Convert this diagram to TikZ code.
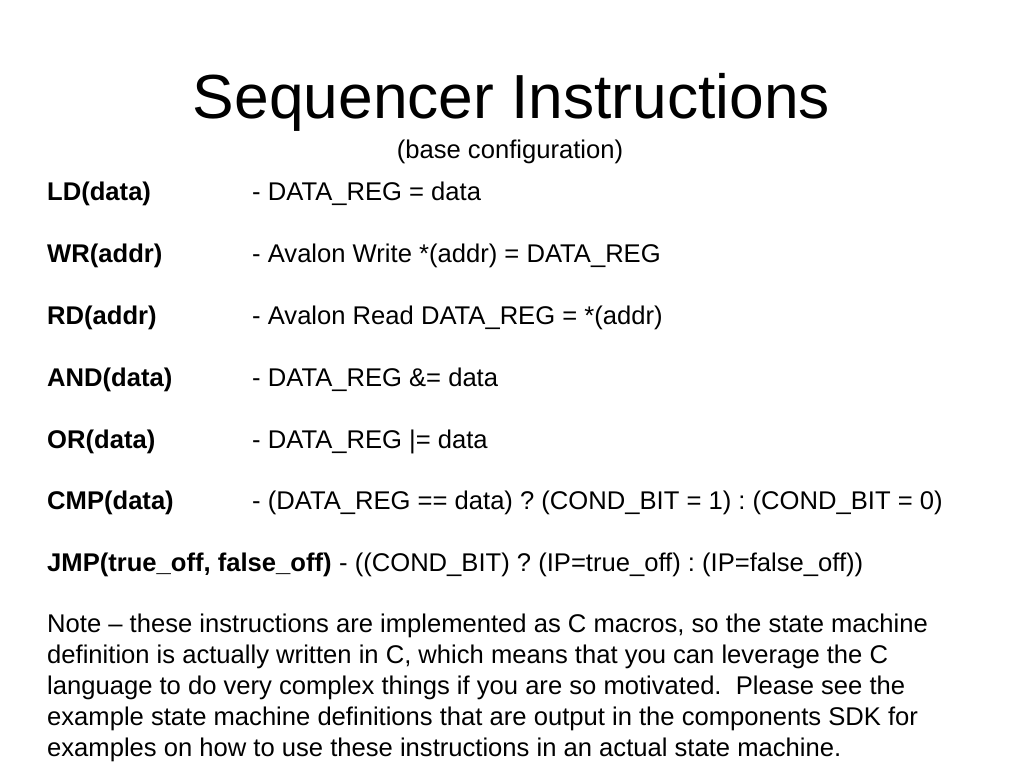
\documentclass[tikz,border=0pt]{standalone}
\usepackage{fontspec}
\setmainfont{Liberation Sans}
\frenchspacing
\begin{document}
\begin{tikzpicture}[x=1pt, y=-1pt,
    every node/.style={inner sep=0pt, anchor=base west},
    instr/.style={font=\fontsize{25.6}{31}\selectfont\bfseries},
    effect/.style={font=\fontsize{25.6}{31}\selectfont}]
    \useasboundingbox[fill=white] (0, 0) rectangle (1024, 768);
    \node[anchor=base, font=\fontsize{62.3}{70}\selectfont] (title) at (511.5, 118) {Sequencer Instructions};
    \node[anchor=base, effect] (subtitle) at (510, 158) {(base configuration)};
    \node[instr] (ld) at (47, 200) {LD(data)};
    \node[effect] (ldfx) at (252, 200) {- DATA\_REG = data};
    \node[instr] (wr) at (47, 262) {WR(addr)};
    \node[effect] (wrfx) at (252, 262) {- Avalon Write *(addr) = DATA\_REG};
    \node[instr] (rd) at (47, 324) {RD(addr)};
    \node[effect] (rdfx) at (252, 324) {- Avalon Read DATA\_REG = *(addr)};
    \node[instr] (and) at (47, 386) {AND(data)};
    \node[effect] (andfx) at (252, 386) {- DATA\_REG \&= data};
    \node[instr] (or) at (47, 448) {OR(data)};
    \node[effect] (orfx) at (252, 448) {- DATA\_REG |= data};
    \node[instr] (cmp) at (47, 509) {CMP(data)};
    \node[effect] (cmpfx) at (252, 509) {- (DATA\_REG == data) ? (COND\_BIT = 1) : (COND\_BIT = 0)};
    \node[instr] (jmp) at (47, 571) {JMP(true\_off, false\_off)};
    \node[effect] (jmpfx) at (jmp.base east) {\ - ((COND\_BIT) ? (IP=true\_off) : (IP=false\_off))};
    % the base of a node of several lines is the base of its last line
    \node[effect, align=left] (note) at (47, 756) {Note – these instructions are implemented as C macros, so the state machine\\
      definition is actually written in C, which means that you can leverage the C\\
      language to do very complex things if you are so motivated.\ \ Please see the\\
      example state machine definitions that are output in the components SDK for\\
      examples on how to use these instructions in an actual state machine.};
  \end{tikzpicture}
\end{document}
